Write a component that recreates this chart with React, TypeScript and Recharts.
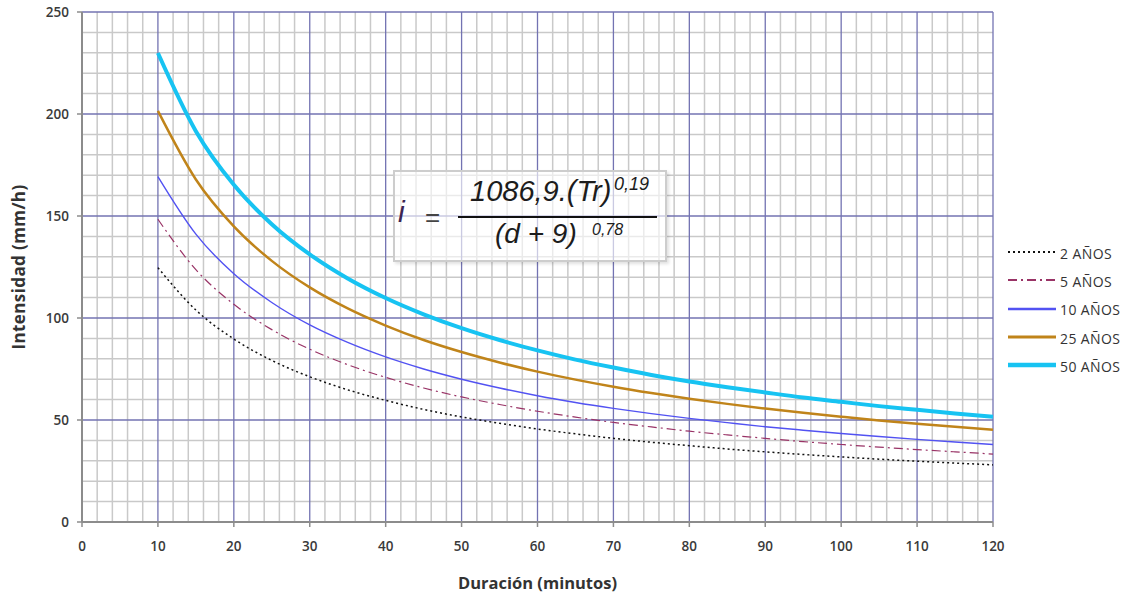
import React from "react";
import { LineChart, Line, XAxis, YAxis, ReferenceLine, Label } from "recharts";

// duración (min) vs intensidad (mm/h) por periodo de retorno
const durations = [10, 15, 20, 25, 30, 35, 40, 45, 50, 55, 60, 65, 70, 75, 80, 85, 90, 95, 100, 105, 110, 115, 120];
const tr2 = [124.7, 103.9, 89.7, 79.2, 71.2, 64.8, 59.6, 55.2, 51.5, 48.4, 45.6, 43.2, 41.0, 39.1, 37.4, 35.8, 34.4, 33.1, 31.9, 30.8, 29.8, 28.9, 28.0];
const tr5 = [148.4, 123.7, 106.7, 94.3, 84.7, 77.1, 70.9, 65.7, 61.3, 57.6, 54.3, 51.4, 48.8, 46.6, 44.5, 42.7, 41.0, 39.4, 38.0, 36.7, 35.5, 34.4, 33.3];
const tr10 = [169.3, 141.1, 121.7, 107.6, 96.6, 88.0, 80.9, 75.0, 70.0, 65.7, 61.9, 58.6, 55.7, 53.1, 50.8, 48.7, 46.7, 45.0, 43.4, 41.9, 40.5, 39.2, 38.0];
const tr25 = [201.5, 167.9, 144.9, 128.0, 115.0, 104.7, 96.3, 89.2, 83.3, 78.2, 73.7, 69.8, 66.3, 63.2, 60.4, 57.9, 55.6, 53.5, 51.6, 49.8, 48.2, 46.7, 45.2];
const tr50 = [229.9, 191.6, 165.3, 146.0, 131.2, 119.4, 109.8, 101.8, 95.0, 89.2, 84.1, 79.6, 75.7, 72.1, 68.9, 66.1, 63.5, 61.0, 58.9, 56.8, 55.0, 53.2, 51.6];

const xTicks = [0, 10, 20, 30, 40, 50, 60, 70, 80, 90, 100, 110, 120];
const yTicks = [0, 50, 100, 150, 200, 250];

const series = [
  { key: "tr2", name: "2 AÑOS", values: tr2, color: "#111111", width: 1.5, dash: "2 3", legendWidth: 2 },
  { key: "tr5", name: "5 AÑOS", values: tr5, color: "#993366", width: 1.2, dash: "9 4 2 4", legendWidth: 2 },
  { key: "tr10", name: "10 AÑOS", values: tr10, color: "#5252f2", width: 1.4, dash: undefined, legendWidth: 2.5 },
  { key: "tr25", name: "25 AÑOS", values: tr25, color: "#c0841a", width: 2.5, dash: undefined, legendWidth: 3 },
  { key: "tr50", name: "50 AÑOS", values: tr50, color: "#17c3f2", width: 4, dash: undefined, legendWidth: 4.5 },
];

const data = durations.map((d, i) => {
  const row: Record<string, number> = { d };
  series.forEach((s) => (row[s.key] = s.values[i]));
  return row;
});

const minorX = Array.from({ length: 61 }, (_, i) => i * 2).filter((v) => v % 10 !== 0);
const minorY = Array.from({ length: 26 }, (_, i) => i * 10).filter((v) => v % 50 !== 0);
const majorX = xTicks.filter((v) => v > 0);
const majorY = yTicks.filter((v) => v > 0);

const tickFont = { fill: "#3a3a3a", fontSize: 13.5, fontWeight: 600, fontFamily: "'Open Sans', sans-serif" };

function LegendBox() {
  return (
    <div style={{ position: "absolute", left: 1006, top: 237, width: 127, fontFamily: "'Open Sans', sans-serif", fontSize: 14, color: "#333", letterSpacing: 0.4 }}>
      {series.map((s) => (
        <div key={s.key} style={{ height: 28.3, display: "flex", alignItems: "center" }}>
          <svg width={52} height={10} style={{ marginRight: 2 }}>
            <line x1={2} y1={6} x2={50} y2={6} stroke={s.color} strokeWidth={s.legendWidth} strokeDasharray={s.dash} />
          </svg>
          <span style={{ marginTop: 4 }}>{s.name}</span>
        </div>
      ))}
    </div>
  );
}

function Formula() {
  const t = (size: number, left: number, top: number, extra: React.CSSProperties = {}) => ({
    position: "absolute" as const, left, top, fontSize: size, lineHeight: `${size}px`, whiteSpace: "nowrap" as const, ...extra,
  });
  return (
    <div style={{
      position: "absolute", left: 393, top: 170, width: 270, height: 88,
      border: "2px solid #cdcdcd", background: "rgba(255,255,255,0.62)",
      boxShadow: "2px 2px 3px rgba(0,0,0,0.12)",
      fontFamily: "'Liberation Sans', Arial, sans-serif", fontStyle: "italic", color: "#1c1c1c",
    }}>
      <span style={t(30, 3, 25, { color: "#3b2452" })}>i</span>
      <span style={t(26, 30, 32, { fontStyle: "normal", color: "#444" })}>=</span>
      <span style={t(29, 75, 4.5)}>1086,9.(Tr)</span>
      <span style={t(18, 219, 3)}>0,19</span>
      <div style={{ position: "absolute", left: 63, top: 44, width: 199, height: 2, background: "#111" }} />
      <span style={t(28, 100, 48)}>(d + 9)</span>
      <span style={t(16, 197, 50)}>0,78</span>
    </div>
  );
}

export default function App() {
  return (
    <div style={{ position: "absolute", left: 0, top: 0, width: 1133, height: 597, background: "#fff" }}>
      <LineChart width={1133} height={597} data={data} margin={{ top: 12, right: 140, bottom: 0, left: 0 }}>
        {minorX.map((v) => (
          <ReferenceLine key={"mx" + v} x={v} stroke="#c9c9c9" strokeWidth={1.5} />
        ))}
        {minorY.map((v) => (
          <ReferenceLine key={"my" + v} y={v} stroke="#c9c9c9" strokeWidth={1.5} />
        ))}
        {majorX.map((v) => (
          <ReferenceLine key={"Mx" + v} x={v} stroke="#7373b2" strokeWidth={1.3} />
        ))}
        {majorY.map((v) => (
          <ReferenceLine key={"My" + v} y={v} stroke="#7373b2" strokeWidth={1.3} />
        ))}
        <XAxis
          dataKey="d"
          type="number"
          domain={[0, 120]}
          ticks={xTicks}
          height={75}
          tickSize={5}
          tickMargin={14}
          axisLine={{ stroke: "#8c8c8c", strokeWidth: 2 }}
          tickLine={{ stroke: "#8c8c8c", strokeWidth: 1.5 }}
          tick={tickFont}
        >
          <Label
            content={({ viewBox }: any) => (
              <text x={viewBox.x + viewBox.width / 2} y={viewBox.y + 67} textAnchor="middle"
                fill="#333" fontSize={16.5} fontWeight={700} fontFamily="'Open Sans', sans-serif">
                Duración (minutos)
              </text>
            )}
          />
        </XAxis>
        <YAxis
          type="number"
          domain={[0, 250]}
          ticks={yTicks}
          width={82}
          tickSize={5}
          tickMargin={8}
          axisLine={{ stroke: "#8c8c8c", strokeWidth: 2 }}
          tickLine={{ stroke: "#8c8c8c", strokeWidth: 1.5 }}
          tick={tickFont}
        >
          <Label
            content={({ viewBox }: any) => {
              const x = viewBox.x + 25;
              const y = viewBox.y + viewBox.height / 2;
              return (
                <text x={x} y={y} transform={`rotate(-90 ${x} ${y})`} textAnchor="middle"
                  fill="#333" fontSize={17} fontWeight={700} fontFamily="'Open Sans', sans-serif" letterSpacing={0.4}>
                  Intensidad (mm/h)
                </text>
              );
            }}
          />
        </YAxis>
        {series.map((s) => (
          <Line
            key={s.key}
            type="monotone"
            dataKey={s.key}
            name={s.name}
            stroke={s.color}
            strokeWidth={s.width}
            strokeDasharray={s.dash}
            dot={false}
            isAnimationActive={false}
          />
        ))}
      </LineChart>
      <LegendBox />
      <Formula />
    </div>
  );
}
